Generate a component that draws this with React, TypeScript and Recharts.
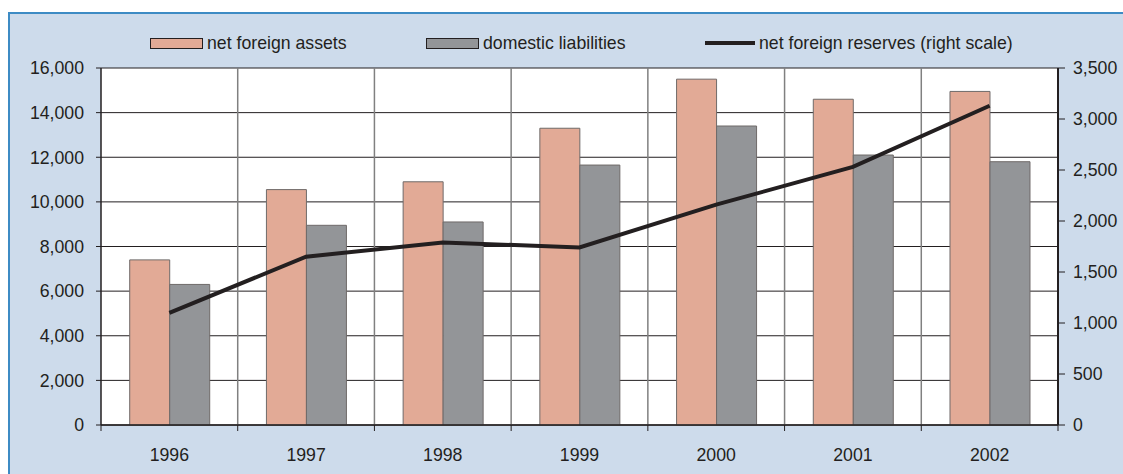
import { ComposedChart, Bar, Line, XAxis, YAxis, CartesianGrid } from 'recharts';

const years = ['1996', '1997', '1998', '1999', '2000', '2001', '2002'];
const netForeignAssets = [7400, 10550, 10900, 13300, 15500, 14600, 14950];
const domesticLiabilities = [6300, 8950, 9100, 11650, 13400, 12100, 11800];
const netForeignReserves = [1100, 1650, 1790, 1740, 2160, 2530, 3130];

const leftTicks = [0, 2000, 4000, 6000, 8000, 10000, 12000, 14000, 16000];
const rightTicks = [0, 500, 1000, 1500, 2000, 2500, 3000, 3500];

const data = years.map((year, i) => ({
  year,
  nfa: netForeignAssets[i],
  dl: domesticLiabilities[i],
  nfr: netForeignReserves[i],
}));

const WIDTH = 1123;
const HEIGHT = 474;
const MARGIN = { top: 68, right: 5, bottom: 0, left: 0 };
const X_AXIS_H = 49;
const LEFT_AXIS_W = 101;
const RIGHT_AXIS_W = 60;
const PLOT_W = WIDTH - MARGIN.left - MARGIN.right - LEFT_AXIS_W - RIGHT_AXIS_W;
const BAND = PLOT_W / years.length;

const INK = '#231f20';
const FONT = '"Liberation Sans", Arial, sans-serif';
const FONT_SIZE = 17.7;
const NFA_COLOR = '#e2aa96';
const DL_COLOR = '#939598';
const BAR_STROKE = '#6f6a69';

const fmt = (v: number) => v.toLocaleString('en-US');

const YearTick = ({ x, y, payload, index }: any) => {
  const left = x - BAND / 2;
  return (
    <g>
      <line x1={left} y1={y} x2={left} y2={y + 6} stroke={INK} strokeWidth={1} />
      {index === years.length - 1 && (
        <line x1={x + BAND / 2} y1={y} x2={x + BAND / 2} y2={y + 6} stroke={INK} strokeWidth={1} />
      )}
      <text x={x} y={y + 36} textAnchor="middle" fill={INK} fontSize={FONT_SIZE} fontFamily={FONT}>
        {payload.value}
      </text>
    </g>
  );
};

const legendItems = [
  { label: 'net foreign assets', type: 'rect', color: NFA_COLOR, x: 150 },
  { label: 'domestic liabilities', type: 'rect', color: DL_COLOR, x: 426 },
  { label: 'net foreign reserves (right scale)', type: 'line', color: INK, x: 705 },
];

const ChartLegend = () => (
  <div style={{ position: 'absolute', left: 0, top: 31, width: WIDTH, height: 24 }}>
    {legendItems.map((item) => (
      <div
        key={item.label}
        style={{ position: 'absolute', left: item.x, top: 0, height: 24, display: 'flex', alignItems: 'center' }}
      >
        {item.type === 'rect' ? (
          <span
            style={{
              display: 'inline-block',
              width: 51,
              height: 9,
              background: item.color,
              border: `1px solid ${INK}`,
            }}
          />
        ) : (
          <span style={{ display: 'inline-block', width: 50, height: 4, background: item.color }} />
        )}
        <span style={{ marginLeft: 4, fontSize: FONT_SIZE, fontFamily: FONT, color: INK, whiteSpace: 'nowrap' }}>
          {item.label}
        </span>
      </div>
    ))}
  </div>
);

export default function App() {
  return (
    <div style={{ position: 'fixed', left: 0, top: 0, width: WIDTH, height: HEIGHT, overflow: 'hidden', background: '#fff' }}>
      <div
        style={{
          position: 'absolute',
          left: 8,
          top: 12,
          width: WIDTH,
          height: HEIGHT,
          background: '#cddbeb',
          borderTop: '2px solid #3d8bc4',
          borderLeft: '2px solid #3d8bc4',
        }}
      />
      <ChartLegend />
      <div style={{ position: 'absolute', left: 0, top: 0 }}>
        <ComposedChart
          width={WIDTH}
          height={HEIGHT}
          data={data}
          margin={MARGIN}
          barCategoryGap="21%"
          barGap={0}
        >
          <CartesianGrid horizontal vertical={false} stroke={INK} strokeOpacity={1} fill="#fff" yAxisId="left" />
          <CartesianGrid
            horizontal={false}
            vertical
            stroke="#808080"
            strokeWidth={1.5}
            verticalCoordinatesGenerator={({ offset }: any) =>
              years.map((_, i) => offset.left + i * (offset.width / years.length)).slice(1)
            }
          />
          <XAxis
            dataKey="year"
            height={X_AXIS_H}
            tickLine={false}
            tickSize={0}
            tickMargin={0}
            axisLine={{ stroke: INK, strokeWidth: 1.5 }}
            tick={<YearTick />}
            interval={0}
          />
          <YAxis
            yAxisId="left"
            orientation="left"
            width={LEFT_AXIS_W}
            domain={[0, 16000]}
            ticks={leftTicks}
            tickFormatter={fmt}
            tickSize={5}
            tickMargin={12}
            tickLine={{ stroke: INK }}
            axisLine={{ stroke: INK, strokeWidth: 1.5 }}
            tick={{ fill: INK, fontSize: FONT_SIZE, fontFamily: FONT }}
            interval={0}
          />
          <YAxis
            yAxisId="right"
            orientation="right"
            width={RIGHT_AXIS_W}
            domain={[0, 3500]}
            ticks={rightTicks}
            tickFormatter={fmt}
            tickSize={7}
            tickMargin={8}
            tickLine={{ stroke: INK }}
            axisLine={{ stroke: INK, strokeWidth: 2 }}
            tick={{ fill: INK, fontSize: FONT_SIZE, fontFamily: FONT, textAnchor: 'start' }}
            interval={0}
          />
          <Bar
            yAxisId="left"
            dataKey="nfa"
            name="net foreign assets"
            fill={NFA_COLOR}
            stroke={BAR_STROKE}
            strokeWidth={1}
            isAnimationActive={false}
          />
          <Bar
            yAxisId="left"
            dataKey="dl"
            name="domestic liabilities"
            fill={DL_COLOR}
            stroke={BAR_STROKE}
            strokeWidth={1}
            isAnimationActive={false}
          />
          <Line
            yAxisId="right"
            dataKey="nfr"
            name="net foreign reserves (right scale)"
            type="linear"
            stroke={INK}
            strokeWidth={4}
            dot={false}
            activeDot={false}
            isAnimationActive={false}
          />
        </ComposedChart>
      </div>
    </div>
  );
}
